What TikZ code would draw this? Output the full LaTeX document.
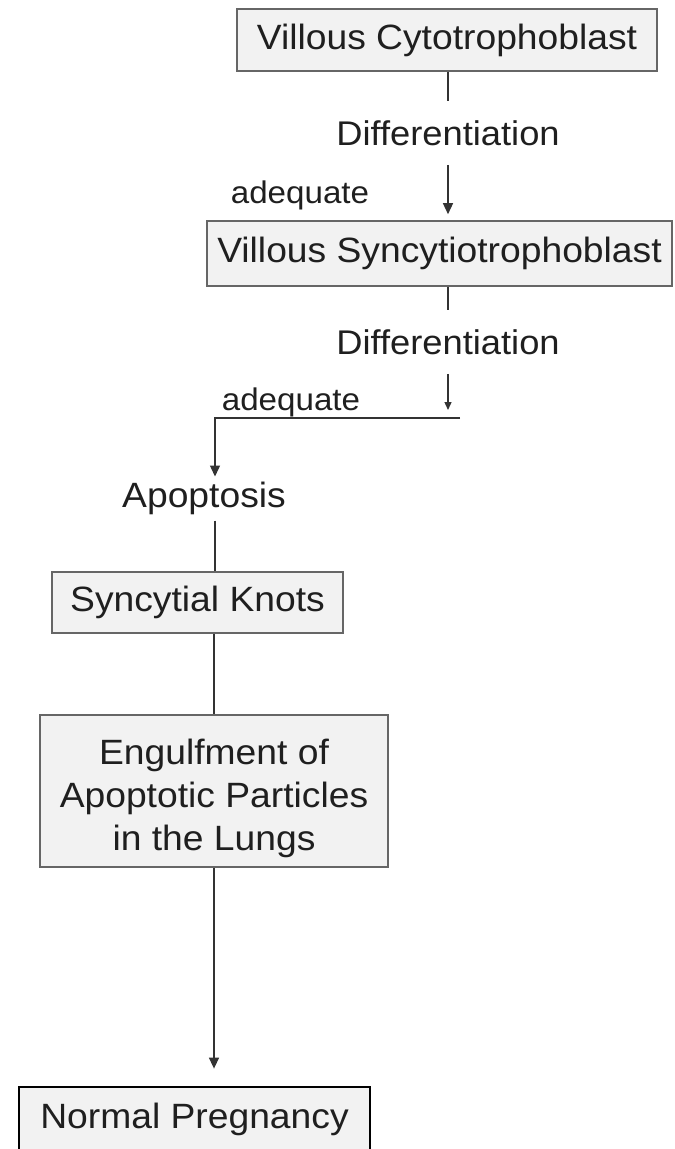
\documentclass[tikz,border=0pt]{standalone}
\usepackage{fontspec}
\setmainfont{Liberation Sans}[FakeStretch=1.06]
\usetikzlibrary{arrows.meta}

\begin{document}
\begin{tikzpicture}[
    x=0.02cm, y=-0.02cm,
    box/.style={draw=black!60, line width=0.9pt, fill=black!5, text=black!88, align=center, inner sep=0pt, font=\fontsize{20}{24}\selectfont},
    lbl/.style={inner sep=0pt, text=black!88, font=\fontsize{19.5}{22}\selectfont},
    cond/.style={inner sep=0pt, text=black!88, font=\fontsize{17.8}{20}\selectfont},
    link/.style={line width=0.8pt, black!80},
    arrow/.style={link, -{Triangle[length=2.2mm, width=2mm]}}
]
\useasboundingbox (0,0) rectangle (675,1149);

\node[box, minimum width=8.4cm, minimum height=1.24cm] (cyto) at (447,40) {Villous Cytotrophoblast};
\node[lbl, minimum height=1.26cm] (diff1) at (448,133) {Differentiation};
\node[cond] (adeq1) at (300,195) {adequate};
\node[box, minimum width=9.3cm, minimum height=1.3cm] (syncytio) at (439.5,253.5) {Villous Syncytiotrophoblast};
\node[lbl, minimum height=1.26cm] (diff2) at (448,342) {Differentiation};
\node[cond] (adeq2) at (291,402) {adequate};
\coordinate (tip2) at (448,410);
\coordinate (elbowR) at (460,418);
\coordinate (elbowL) at (215,418);
\node[lbl, inner sep=3pt, font=\fontsize{20}{22}\selectfont] (apop) at (204,498.5) {Apoptosis};
\node[box, minimum width=5.82cm, minimum height=1.22cm] (knots) at (197.5,602.5) {Syncytial Knots};
\node[box, minimum width=6.96cm, minimum height=3.04cm] (engulf) at (214,791) {\rule{0pt}{23pt}Engulfment of\\[0.5pt]Apoptotic Particles\\[0.5pt]in the Lungs};
\node[box, draw=black, line width=1.6pt, minimum width=7.02cm, minimum height=1.3cm] (normal) at (194.5,1119.5) {Normal Pregnancy};

% connectors
\draw[link] (cyto.south -| diff1) -- (diff1.north);
\draw[arrow, shorten >=0.12cm] (diff1.south) -- (diff1.south |- syncytio.north);
\draw[link] (syncytio.south -| diff2) -- (diff2.north);
\draw[link, -{Triangle[length=1.6mm, width=1.4mm]}] (diff2.south) -- (tip2);
\draw[arrow] (elbowR) -- (elbowL) -- (elbowL |- apop.north);
\draw[link] (apop.south -| elbowL) -- (knots.north -| elbowL);
\draw[link] (knots.south -| engulf.north) -- (engulf.north);
\draw[arrow, shorten >=0.34cm] (engulf.south) -- (engulf.south |- normal.north);
\end{tikzpicture}
\end{document}
